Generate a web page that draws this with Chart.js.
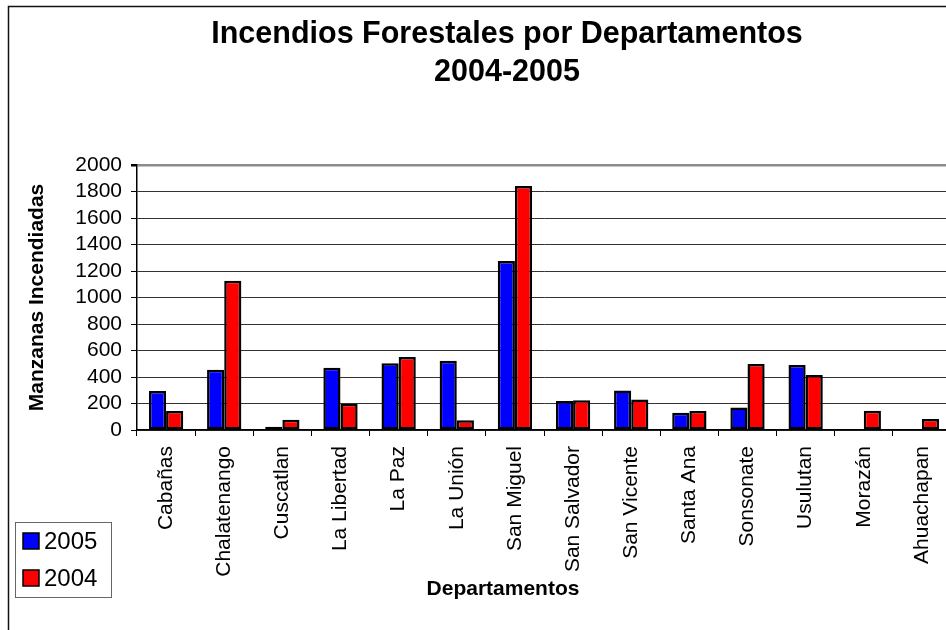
<!DOCTYPE html>
<html>
<head>
<meta charset="utf-8">
<script src="https://cdn.jsdelivr.net/npm/chart.js@4/dist/chart.umd.min.js"></script>
<style>
  html, body { margin: 0; padding: 0; overflow: hidden; background: #fff; width: 946px; height: 630px; }
</style>
</head>
<body>
<canvas id="incendios" width="960" height="630"></canvas>
<script>
var departamentos = ['Cabañas', 'Chalatenango', 'Cuscatlan', 'La Libertad', 'La Paz', 'La Unión',
  'San Miguel', 'San Salvador', 'San Vicente', 'Santa Ana', 'Sonsonate', 'Usulutan', 'Morazán', 'Ahuachapan'];
var manzanas2005 = [295, 455, 25, 470, 503, 523, 1275, 219, 299, 131, 169, 491, null, null];
var manzanas2004 = [143, 1127, 78, 199, 551, 73, 1841, 224, 231, 143, 498, 415, 146, 83];
var series = ['2005', '2004'];
var titulo = ['Incendios Forestales por Departamentos', '2004-2005'];
var tituloX = 'Departamentos';
var tituloY = 'Manzanas Incendiadas';

// marco exterior del grafico (cortado a la derecha y abajo)
const marco = {
  id: 'marco',
  beforeDraw(chart) {
    const c = chart.ctx;
    c.save();
    c.fillStyle = '#fff';
    c.fillRect(0, 0, chart.width, chart.height);
    c.strokeStyle = '#111';
    c.lineWidth = 1.5;
    c.strokeRect(8.5, 6.5, chart.width + 50, chart.height + 50);
    c.restore();
  }
};

// titulo principal y titulo del eje x, centrados sobre todo el grafico
const rotulos = {
  id: 'rotulos',
  afterDraw(chart) {
    const c = chart.ctx;
    c.save();
    c.fillStyle = '#000';
    c.textAlign = 'center';
    c.textBaseline = 'middle';
    c.font = 'bold 30.5px Arial';
    c.fillText(titulo[0], 507, 35);
    c.fillText(titulo[1], 507, 73);
    c.font = 'bold 21px Arial';
    c.fillText(tituloX, 503, 589);
    c.restore();
  }
};

// leyenda abajo a la izquierda
const leyenda = {
  id: 'leyenda',
  afterDraw(chart) {
    const c = chart.ctx;
    c.save();
    c.strokeStyle = '#666';
    c.lineWidth = 1;
    c.strokeRect(15.5, 522.5, 96, 75);
    c.textBaseline = 'middle';
    c.font = '24px Arial';
    chart.data.datasets.forEach(function (ds, i) {
      const y = 541 + i * 37;
      c.fillStyle = ds.backgroundColor;
      c.fillRect(23, y - 8, 16, 16);
      c.strokeStyle = '#000';
      c.lineWidth = 1.5;
      c.strokeRect(23, y - 8, 16, 16);
      c.fillStyle = '#000';
      c.fillText(ds.label, 44, y + 1);
    });
    c.restore();
  }
};

var ctx_incendios = document.getElementById('incendios');
var incendios = new Chart(ctx_incendios, {
  type: 'bar',
  data: {
    labels: departamentos,
    datasets: [
      {
        label: series[0],
        data: manzanas2005,
        backgroundColor: '#0000ff',
        borderColor: '#000',
        borderWidth: 2.5,
        borderSkipped: false,
        categoryPercentage: 0.59,
        barPercentage: 1.0
      },
      {
        label: series[1],
        data: manzanas2004,
        backgroundColor: '#ff0000',
        borderColor: '#000',
        borderWidth: 2.5,
        borderSkipped: false,
        categoryPercentage: 0.59,
        barPercentage: 1.0
      }
    ]
  },
  options: {
    responsive: false,
    animation: false,
    layout: {
      padding: { left: 8, top: 165, right: 9, bottom: 0 }
    },
    plugins: {
      legend: { display: false },
      title: { display: false },
      tooltip: { enabled: false }
    },
    scales: {
      x: {
        grid: {
          display: true,
          drawOnChartArea: false,
          offset: true,
          tickLength: 6,
          color: '#000'
        },
        border: { color: '#000', width: 1.5 },
        ticks: {
          color: '#000',
          font: { family: 'Arial', size: 21 },
          minRotation: 90,
          maxRotation: 90,
          autoSkip: false,
          padding: 10
        },
        afterFit(scale) { scale.height = 200; }
      },
      y: {
        min: 0,
        max: 2000,
        ticks: {
          stepSize: 200,
          autoSkip: false,
          color: '#000',
          font: { family: 'Arial', size: 21 },
          padding: 9,
          callback: (v) => String(v)
        },
        grid: {
          color: (c) => (c.tick && c.tick.value === 2000) ? '#8c8c8c' : '#333',
          lineWidth: (c) => (c.tick && c.tick.value === 2000) ? 2.5 : 1,
          tickColor: '#000',
          tickLength: 6
        },
        border: { color: '#000', width: 1.5 },
        title: {
          display: true,
          text: tituloY,
          color: '#000',
          font: { family: 'Arial', size: 21, weight: 'bold' },
          padding: { top: 17, bottom: 0 }
        },
        afterFit(scale) { scale.width = 129; }
      }
    }
  },
  plugins: [marco, rotulos, leyenda]
});
</script>
</body>
</html>
